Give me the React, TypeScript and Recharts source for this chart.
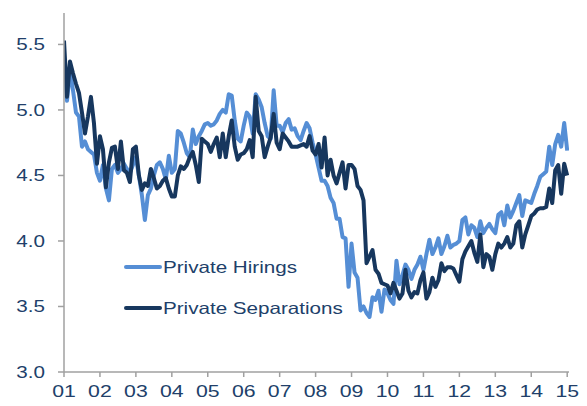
import React from 'react';
import { LineChart, Line, XAxis, YAxis, Legend } from 'recharts';

const startYear = 2001;
const seriesNames = ['Private Hirings', 'Private Separations'];
const yearTicks = [2001, 2002, 2003, 2004, 2005, 2006, 2007, 2008, 2009, 2010, 2011, 2012, 2013, 2014, 2015];
const valueTicks = [3.0, 3.5, 4.0, 4.5, 5.0, 5.5];

const hirings = [
  5.40, 5.07, 5.30, 5.15, 4.98, 4.95, 4.72, 4.76, 4.70, 4.68, 4.66, 4.52,
  4.46, 4.58, 4.40, 4.31, 4.55, 4.58, 4.52, 4.55, 4.59, 4.55, 4.52, 4.58,
  4.64, 4.50, 4.35, 4.16, 4.35, 4.40, 4.50, 4.58, 4.60, 4.55, 4.47, 4.65,
  4.52, 4.55, 4.84, 4.82, 4.75, 4.67, 4.64, 4.85, 4.74, 4.80, 4.84, 4.89,
  4.90, 4.88, 4.89, 4.92, 4.97, 5.00, 4.98, 5.12, 5.11, 4.92, 4.78, 4.76,
  4.88, 4.98, 4.95, 4.82, 5.12, 5.08, 5.02, 4.90, 4.80, 4.78, 5.15, 4.88,
  4.88, 4.83, 4.90, 4.93, 4.85, 4.86, 4.80, 4.77, 4.84, 4.90, 4.86, 4.75,
  4.66, 4.56, 4.46, 4.46, 4.42, 4.33, 4.29, 4.17, 4.17, 4.03, 4.02, 3.65,
  3.98, 3.76, 3.72, 3.47, 3.50, 3.45, 3.42, 3.57, 3.55, 3.62, 3.46, 3.63,
  3.60, 3.55, 3.52, 3.85, 3.67, 3.74, 3.82, 3.78, 3.71, 3.78, 3.82, 3.88,
  3.78, 3.90, 4.01, 3.90, 3.95, 4.02, 3.90, 3.96, 4.04, 3.95, 3.97, 3.98,
  4.00, 4.16, 4.18, 4.05, 4.12, 4.10, 4.03, 4.15, 4.06, 4.10, 4.13, 4.09,
  4.06, 4.20, 4.22, 4.12, 4.27, 4.18, 4.23, 4.29, 4.35, 4.19, 4.31, 4.30,
  4.29, 4.36, 4.42, 4.49, 4.51, 4.53, 4.72, 4.58, 4.74, 4.81, 4.72, 4.90,
  4.69,
];

const separations = [
  5.53, 5.10, 5.37, 5.28, 5.20, 5.13, 4.98, 4.82, 4.95, 5.10, 4.90, 4.59,
  4.80, 4.70, 4.41, 4.60, 4.71, 4.72, 4.55, 4.76, 4.54, 4.52, 4.45, 4.70,
  4.72, 4.50, 4.39, 4.44, 4.42, 4.55, 4.48, 4.40, 4.42, 4.46, 4.48, 4.40,
  4.34, 4.34, 4.50, 4.57, 4.55, 4.58, 4.64, 4.68, 4.58, 4.45, 4.78, 4.76,
  4.74, 4.68, 4.74, 4.79, 4.64, 4.82, 4.64, 4.80, 4.92, 4.72, 4.62, 4.66,
  4.67, 4.70, 4.77, 4.64, 5.10, 4.84, 4.80, 4.64, 4.72, 4.79, 4.97, 4.75,
  4.70, 4.82, 4.79, 4.76, 4.72, 4.72, 4.72, 4.73, 4.74, 4.72, 4.80, 4.69,
  4.66, 4.74, 4.56, 4.79, 4.50, 4.62, 4.50, 4.44, 4.52, 4.60, 4.40, 4.58,
  4.58, 4.55, 4.42, 4.39, 4.31, 3.83, 3.88, 3.93, 3.78, 3.75, 3.68, 3.67,
  3.66, 3.60, 3.68, 3.62, 3.56, 3.60, 3.78, 3.62, 3.57, 3.61, 3.60, 3.70,
  3.76, 3.56, 3.61, 3.72, 3.65, 3.70, 3.83, 3.77, 3.80, 3.80, 3.79, 3.74,
  3.69, 3.86, 3.92, 3.96, 4.00, 3.91, 3.84, 4.05, 3.80, 3.90, 3.88, 3.78,
  3.90, 3.98, 3.95, 3.98, 4.03, 3.95, 3.98, 4.12, 4.15, 3.95, 4.05, 4.12,
  4.19, 4.21, 4.24, 4.25, 4.25, 4.26, 4.40, 4.29, 4.54, 4.58, 4.36, 4.59,
  4.50,
];

const data = hirings.map((h, i) => ({
  t: startYear + i / 12,
  hirings: h,
  separations: separations[i],
}));

const HIRE_COLOR = '#558ED5';
const SEP_COLOR = '#17375E';
const TEXT_COLOR = '#213F6A';
const AXIS_COLOR = '#A0A0A0';
const FONT = '"Liberation Sans", Arial, sans-serif';
const STRETCH = 1.25;

const XTick = (props: any) => {
  const { x, y, payload } = props;
  const label = String(Math.round(payload.value) % 100).padStart(2, '0');
  return (
    <text
      transform={`translate(${x},${y}) scale(${STRETCH},1)`}
      textAnchor="middle"
      dy={20.5}
      fontSize={17}
      fontFamily={FONT}
      fill={TEXT_COLOR}
    >
      {label}
    </text>
  );
};

const YTick = (props: any) => {
  const { x, y, payload } = props;
  return (
    <text
      transform={`translate(${x},${y}) scale(${STRETCH},1)`}
      textAnchor="end"
      dy={6}
      fontSize={16.5}
      fontFamily={FONT}
      fill={TEXT_COLOR}
    >
      {payload.value.toFixed(1)}
    </text>
  );
};

const LegendContent = () => {
  const items = [
    { name: seriesNames[0], color: HIRE_COLOR, y: 12 },
    { name: seriesNames[1], color: SEP_COLOR, y: 53 },
  ];
  return (
    <svg width={260} height={70} style={{ overflow: 'visible' }}>
      {items.map((it) => (
        <g key={it.name}>
          <line x1={2} x2={36} y1={it.y} y2={it.y} stroke={it.color} strokeWidth={4} strokeLinecap="round" />
          <text
            transform={`translate(39,${it.y}) scale(${STRETCH},1)`}
            dy={6}
            fontSize={16.5}
            fontFamily={FONT}
            fill={TEXT_COLOR}
          >
            {it.name}
          </text>
        </g>
      ))}
    </svg>
  );
};

export default function App() {
  return (
    <div style={{ position: 'absolute', left: 0, top: 0, width: 587, height: 406, background: '#fff' }}>
      <LineChart width={587} height={406} data={data} margin={{ top: 13, right: 18, bottom: 0, left: 0 }}>
        <XAxis
          dataKey="t"
          type="number"
          domain={[2001, 2015.05]}
          allowDataOverflow
          ticks={yearTicks}
          interval={0}
          height={34}
          tick={<XTick />}
          tickSize={5}
          tickMargin={0}
          stroke={AXIS_COLOR}
          strokeWidth={1.5}
          tickLine={{ stroke: AXIS_COLOR, strokeWidth: 1.5 }}
        />
        <YAxis
          type="number"
          domain={[3, 5.74]}
          allowDataOverflow
          ticks={valueTicks}
          interval={0}
          width={64}
          tick={<YTick />}
          tickSize={6}
          tickMargin={13}
          stroke={AXIS_COLOR}
          strokeWidth={1.5}
          tickLine={{ stroke: AXIS_COLOR, strokeWidth: 1.5 }}
        />
        <Legend
          layout="horizontal"
          verticalAlign="middle"
          align="center"
          wrapperStyle={{ position: 'absolute', left: 124, top: 255, width: 260, height: 70 }}
          content={<LegendContent />}
        />
        <Line
          type="linear"
          dataKey="hirings"
          name={seriesNames[0]}
          stroke={HIRE_COLOR}
          strokeWidth={4}
          dot={false}
          activeDot={false}
          strokeLinejoin="round"
          isAnimationActive={false}
        />
        <Line
          type="linear"
          dataKey="separations"
          name={seriesNames[1]}
          stroke={SEP_COLOR}
          strokeWidth={4}
          dot={false}
          activeDot={false}
          strokeLinejoin="round"
          isAnimationActive={false}
        />
      </LineChart>
    </div>
  );
}
